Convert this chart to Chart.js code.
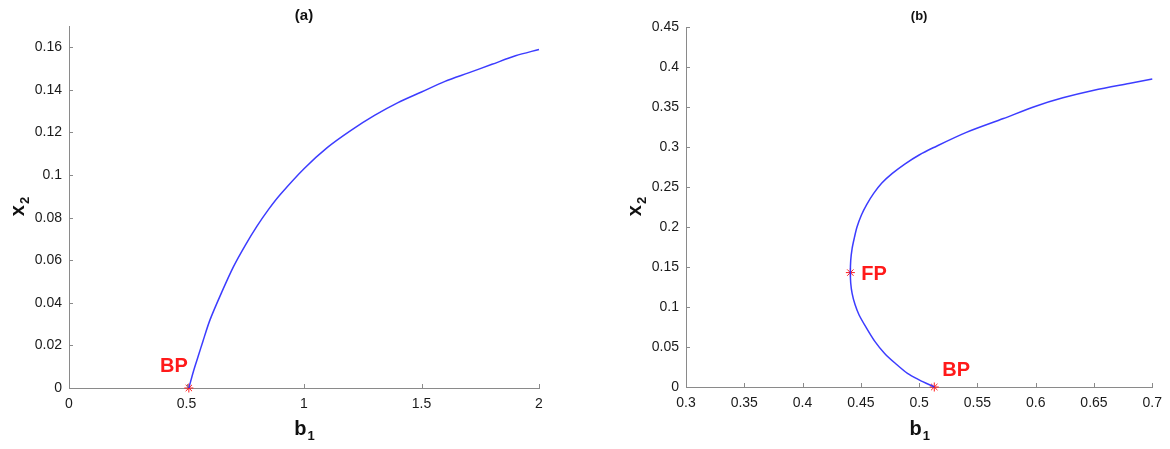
<!DOCTYPE html>
<html>
<head>
<meta charset="utf-8">
<script src="https://cdn.jsdelivr.net/npm/chart.js@4.4.1/dist/chart.umd.min.js"></script>
<style>
  html, body { margin: 0; padding: 0; background: #fff; }
  #wrap { position: relative; width: 1170px; height: 449px; }
  .box { position: absolute; top: 0; width: 580px; height: 449px; }
</style>
</head>
<body>
<div id="wrap">
  <div class="box" style="left:0"><canvas id="chart-a" width="580" height="449"></canvas></div>
  <div class="box" style="left:590px"><canvas id="chart-b" width="580" height="449"></canvas></div>
</div>
<script>
// Panel (a): branch from BP
const B1_A = [0.51, 0.53, 0.55, 0.57, 0.6, 0.65, 0.7, 0.75, 0.8, 0.85, 0.9, 1.0, 1.1, 1.2, 1.3, 1.4, 1.5, 1.6, 1.7, 1.8, 1.9, 2.0];
const X2_A = [0, 0.008, 0.015, 0.022, 0.032, 0.045, 0.057, 0.067, 0.076, 0.084, 0.091, 0.103, 0.113, 0.121, 0.128, 0.134, 0.139, 0.144, 0.148, 0.152, 0.156, 0.159];
const MARK_LABELS_A = ["BP"];
const MARK_B1_A = [0.51];
const MARK_X2_A = [0];
const X_TICKS_A = [0, 0.5, 1, 1.5, 2];
const Y_TICKS_A = [0, 0.02, 0.04, 0.06, 0.08, 0.1, 0.12, 0.14, 0.16];

// Panel (b): fold curve BP -> FP -> upper branch
const B1_B = [0.513, 0.5, 0.49, 0.48, 0.4704, 0.462, 0.4535, 0.4485, 0.445, 0.4425, 0.4413, 0.441, 0.4413, 0.4425, 0.4445, 0.4467, 0.4505, 0.455, 0.461, 0.468, 0.477, 0.488, 0.5, 0.512, 0.54, 0.5723, 0.6, 0.6233, 0.65, 0.68, 0.7];
const X2_B = [0, 0.009, 0.017, 0.029, 0.042, 0.057, 0.077, 0.09, 0.103, 0.117, 0.13, 0.143, 0.158, 0.173, 0.187, 0.2, 0.215, 0.228, 0.242, 0.255, 0.267, 0.279, 0.29, 0.299, 0.318, 0.3356, 0.351, 0.3615, 0.371, 0.3795, 0.385];
const MARK_LABELS_B = ["BP", "FP"];
const MARK_B1_B = [0.513, 0.441];
const MARK_X2_B = [0, 0.143];
const X_TICKS_B = [0.3, 0.35, 0.4, 0.45, 0.5, 0.55, 0.6, 0.65, 0.7];
const Y_TICKS_B = [0, 0.05, 0.1, 0.15, 0.2, 0.25, 0.3, 0.35, 0.4, 0.45];

const AXIS_COLOR = "#8a8a8a";
const LINE_COLOR = "rgba(50, 50, 255, 0.95)";
const MARK_COLOR = "#ff1a1a";
const FONT = "'Liberation Sans', Arial, sans-serif";

function fmt(v) {
  return String(+v.toFixed(3));
}

function toPoints(xs, ys) {
  return xs.map((x, i) => ({ x, y: ys[i] }));
}

// inward ticks, titles, axis labels with subscripts, point labels
const decorPlugin = {
  id: "decor",
  afterDraw(chart, args, opts) {
    const { ctx, chartArea: a } = chart;
    const xs = chart.scales.x;
    const ys = chart.scales.y;
    ctx.save();

    ctx.strokeStyle = AXIS_COLOR;
    ctx.lineWidth = 1;
    ctx.beginPath();
    xs.ticks.forEach((t) => {
      const px = Math.round(xs.getPixelForValue(t.value)) + 0.5;
      ctx.moveTo(px, a.bottom);
      ctx.lineTo(px, a.bottom - 4);
    });
    ys.ticks.forEach((t) => {
      const py = Math.round(ys.getPixelForValue(t.value)) + 0.5;
      ctx.moveTo(a.left, py);
      ctx.lineTo(a.left + 4, py);
    });
    ctx.stroke();

    const cx = (a.left + a.right) / 2;
    const cy = (a.top + a.bottom) / 2;

    // panel title
    ctx.fillStyle = "#111";
    ctx.font = `bold ${opts.titleSize}px ${FONT}`;
    ctx.textAlign = "center";
    ctx.textBaseline = "alphabetic";
    ctx.fillText(opts.title, cx, 20);

    // x axis title b1
    ctx.font = `bold 20px ${FONT}`;
    const wb = ctx.measureText("b").width;
    ctx.font = `bold 13px ${FONT}`;
    const w1 = ctx.measureText("1").width;
    const startX = cx - (wb + w1) / 2;
    ctx.textAlign = "left";
    ctx.font = `bold 20px ${FONT}`;
    ctx.fillText("b", startX, 435);
    ctx.font = `bold 13px ${FONT}`;
    ctx.fillText("1", startX + wb + 1, 440);

    // y axis title x2 (rotated)
    ctx.save();
    ctx.translate(a.left - 45, cy);
    ctx.rotate(-Math.PI / 2);
    ctx.font = `bold 20px ${FONT}`;
    const wx = ctx.measureText("x").width;
    ctx.font = `bold 13px ${FONT}`;
    const w2 = ctx.measureText("2").width;
    const sx = -(wx + w2) / 2;
    ctx.font = `bold 20px ${FONT}`;
    ctx.fillText("x", sx, 0);
    ctx.font = `bold 13px ${FONT}`;
    ctx.fillText("2", sx + wx + 1, 5);
    ctx.restore();

    // point labels
    ctx.fillStyle = MARK_COLOR;
    ctx.font = `bold 20px ${FONT}`;
    opts.labels.forEach((name, i) => {
      const px = xs.getPixelForValue(opts.labelB1[i]);
      const py = ys.getPixelForValue(opts.labelX2[i]);
      const pos = opts.labelPos[i];
      ctx.textAlign = pos.align;
      ctx.fillText(name, px + pos.dx, py + pos.dy);
    });

    ctx.restore();
  },
};

function makeChart(id, cfg) {
  const ctx = document.getElementById(id).getContext("2d");
  return new Chart(ctx, {
    type: "scatter",
    data: {
      datasets: [
        {
          data: toPoints(cfg.b1, cfg.x2),
          showLine: true,
          borderColor: LINE_COLOR,
          borderWidth: 1.5,
          pointRadius: 0,
          tension: 0.3,
          clip: false,
        },
        {
          data: toPoints(cfg.markB1, cfg.markX2),
          showLine: false,
          pointStyle: "star",
          pointRadius: 4.5,
          borderColor: MARK_COLOR,
          backgroundColor: MARK_COLOR,
          borderWidth: 1,
          clip: false,
        },
      ],
    },
    options: {
      responsive: false,
      animation: false,
      layout: { padding: cfg.padding },
      plugins: {
        legend: { display: false },
        tooltip: { enabled: false },
        decor: {
          title: cfg.title,
          titleSize: cfg.titleSize,
          labels: cfg.markLabels,
          labelB1: cfg.markB1,
          labelX2: cfg.markX2,
          labelPos: cfg.labelPos,
        },
      },
      scales: {
        x: {
          type: "linear",
          min: cfg.xTicks[0],
          max: cfg.xTicks[cfg.xTicks.length - 1],
          afterBuildTicks: (s) => { s.ticks = cfg.xTicks.map((v) => ({ value: v })); },
          afterFit: (s) => { s.height = cfg.xAxisHeight; },
          grid: { display: true, drawOnChartArea: false, drawTicks: false },
          border: { display: true, color: AXIS_COLOR, width: 1 },
          ticks: {
            padding: 8,
            color: "#1a1a1a",
            font: { family: FONT, size: 14 },
            maxRotation: 0,
            autoSkip: false,
            callback: (v) => fmt(v),
          },
        },
        y: {
          type: "linear",
          min: 0,
          max: cfg.yMax,
          afterBuildTicks: (s) => { s.ticks = cfg.yTicks.map((v) => ({ value: v })); },
          afterFit: (s) => { s.width = cfg.yAxisWidth; },
          grid: { display: true, drawOnChartArea: false, drawTicks: false },
          border: { display: true, color: AXIS_COLOR, width: 1 },
          ticks: {
            padding: 7,
            color: "#1a1a1a",
            font: { family: FONT, size: 14 },
            autoSkip: false,
            callback: (v) => fmt(v),
          },
        },
      },
    },
    plugins: [decorPlugin],
  });
}

makeChart("chart-a", {
  b1: B1_A, x2: X2_A,
  markB1: MARK_B1_A, markX2: MARK_X2_A, markLabels: MARK_LABELS_A,
  labelPos: [{ dx: -1, dy: -16, align: "right" }],
  xTicks: X_TICKS_A, yTicks: Y_TICKS_A, yMax: 0.17,
  title: "(a)", titleSize: 15,
  padding: { left: 0, top: 26, right: 41, bottom: 0 },
  yAxisWidth: 69, xAxisHeight: 61,
});

makeChart("chart-b", {
  b1: B1_B, x2: X2_B,
  markB1: MARK_B1_B, markX2: MARK_X2_B, markLabels: MARK_LABELS_B,
  labelPos: [{ dx: 8, dy: -11, align: "left" }, { dx: 11, dy: 7, align: "left" }],
  xTicks: X_TICKS_B, yTicks: Y_TICKS_B, yMax: 0.45,
  title: "(b)", titleSize: 13,
  padding: { left: 0, top: 27, right: 13, bottom: 0 },
  yAxisWidth: 96, xAxisHeight: 62,
});
</script>
</body>
</html>
